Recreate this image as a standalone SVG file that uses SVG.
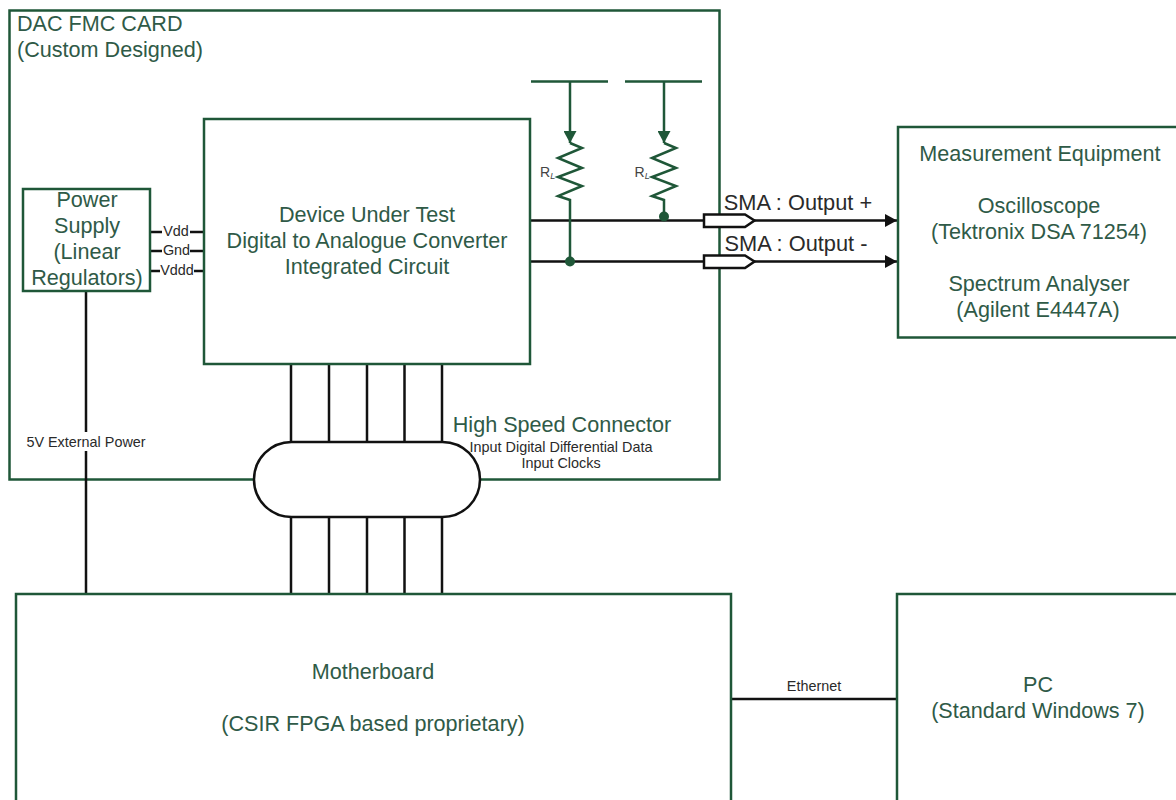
<svg xmlns="http://www.w3.org/2000/svg" width="1176" height="800" viewBox="0 0 1176 800">
<style>
text{font-family:"Liberation Sans",Arial,sans-serif;text-anchor:middle}
.g{fill:#2f5a47}
.t{font-size:21.600px}
.k{fill:#2a2a2a;font-size:14.400px}
.s{fill:#2a2a2a;font-size:21.800px}
.box{fill:#fff;stroke:#1f5738;stroke-width:2.500}
.gl{fill:none;stroke:#1f5738;stroke-width:2.500}
.bl{fill:none;stroke:#111;stroke-width:2.500}
.sma{fill:#fff;stroke:#111;stroke-width:2.500}
.st{text-anchor:start}
</style>
<defs>
<marker id="ak" markerUnits="userSpaceOnUse" markerWidth="14" markerHeight="14" refX="12" refY="6.500" orient="auto"><path d="M0 0L12 6.500L0 13z" fill="#111"/></marker>
<marker id="ag" markerUnits="userSpaceOnUse" markerWidth="14" markerHeight="14" refX="6.500" refY="12" orient="0"><path d="M0 0H13L6.500 12z" fill="#1f5738"/></marker>
</defs>
<rect width="1176" height="800" fill="#fff"/>
<g id="dac-card"><rect class="box" x="9.500" y="10.500" width="710" height="469"/>
<text class="t g st" x="17" y="31">DAC FMC CARD</text>
<text class="t g st" x="17" y="57">(Custom Designed)</text></g>
<g id="connectors">
<path class="bl" d="M86 291V594"/>
<path class="bl" d="M150 232H204M150 251H204M150 271H204"/>
<path class="bl" d="M291 364V442M329 364V442M367 364V442M404.500 364V442M442 364V442M291 516V594M329 516V594M367 516V594M404.500 516V594M442 516V594"/>
<path class="bl" d="M530 220.500H704M754 220.500H897" marker-end="url(#ak)"/>
<path class="bl" d="M530 261.500H704M754 261.500H897" marker-end="url(#ak)"/>
<path class="bl" d="M731 699H897"/>
<path class="gl" d="M531 81.500H608M625 81.500H702"/>
<path class="gl" d="M570 81.500V143" marker-end="url(#ag)"/>
<path class="gl" d="M664 81.500V143" marker-end="url(#ag)"/>
<path class="gl" d="M570 143L582 148L558 158L582 168L558 177L582 186L558 196L570 200V261"/>
<path class="gl" d="M664 143L676 148L652 158L676 168L652 177L676 186L652 196L664 200V216"/>
<circle cx="570" cy="261.500" r="5" fill="#1f5738"/>
<circle cx="664" cy="216.500" r="5" fill="#1f5738"/>
</g>
<g id="dut"><rect class="box" x="204" y="119" width="326" height="245"/>
<text class="t g" x="367" y="222">Device Under Test</text>
<text class="t g" x="367" y="248">Digital to Analogue Converter</text>
<text class="t g" x="367" y="274">Integrated Circuit</text></g>
<g id="power-supply"><rect class="box" x="23" y="189" width="127" height="102"/>
<text class="t g" x="87" y="207">Power</text>
<text class="t g" x="87" y="233">Supply</text>
<text class="t g" x="87" y="259">(Linear</text>
<text class="t g" x="87" y="285">Regulators)</text></g>
<g id="rail-labels">
<rect x="162" y="224" width="28" height="14" fill="#fff"/><rect x="162" y="244" width="28" height="14" fill="#fff"/><rect x="160" y="264" width="34" height="14" fill="#fff"/>
<text class="k" x="176" y="236">Vdd</text><text class="k" x="176.500" y="255">Gnd</text><text class="k" x="177" y="275">Vddd</text></g>
<g id="load-labels"><text class="st" x="540" y="177" style="font-size:14px;fill:#444">R<tspan font-size="9" font-style="italic" dy="2">L</tspan></text>
<text class="st" x="634.500" y="177" style="font-size:14px;fill:#444">R<tspan font-size="9" font-style="italic" dy="2">L</tspan></text></g>
<g id="sma-plus"><path class="sma" d="M704 214.500H745L754.500 220.500L745 227H704z"/><text class="s" x="798" y="210">SMA : Output +</text></g>
<g id="sma-minus"><path class="sma" d="M704 255.500H745L754.500 261.500L745 268H704z"/><text class="s" x="796" y="251">SMA : Output -</text></g>
<g id="hs-connector"><rect x="254" y="442" width="226" height="75" rx="37.500" fill="#fff" stroke="#111" stroke-width="2.500"/>
<text class="t g" x="562" y="432">High Speed Connector</text>
<text class="k" x="561" y="452">Input Digital Differential Data</text>
<text class="k" x="561" y="468">Input Clocks</text></g>
<g id="external-power"><rect x="80" y="432" width="12" height="19" fill="#fff"/><text class="k" x="86" y="447">5V External Power</text></g>
<g id="measurement"><rect class="box" x="898" y="127" width="290" height="210.500"/>
<text class="t g" x="1040" y="161">Measurement Equipment</text>
<text class="t g" x="1039" y="213">Oscilloscope</text>
<text class="t g" x="1039" y="239">(Tektronix DSA 71254)</text>
<text class="t g" x="1039" y="291">Spectrum Analyser</text>
<text class="t g" x="1038" y="317">(Agilent E4447A)</text></g>
<g id="motherboard"><rect class="box" x="16" y="594" width="715" height="230"/>
<text class="t g" x="373" y="679">Motherboard</text>
<text class="t g" x="373" y="731">(CSIR FPGA based proprietary)</text></g>
<g id="pc"><rect class="box" x="897" y="594" width="290" height="230"/>
<text class="t g" x="1038" y="692">PC</text>
<text class="t g" x="1038" y="718">(Standard Windows 7)</text></g>
<text class="k" x="814" y="691">Ethernet</text>
</svg>
